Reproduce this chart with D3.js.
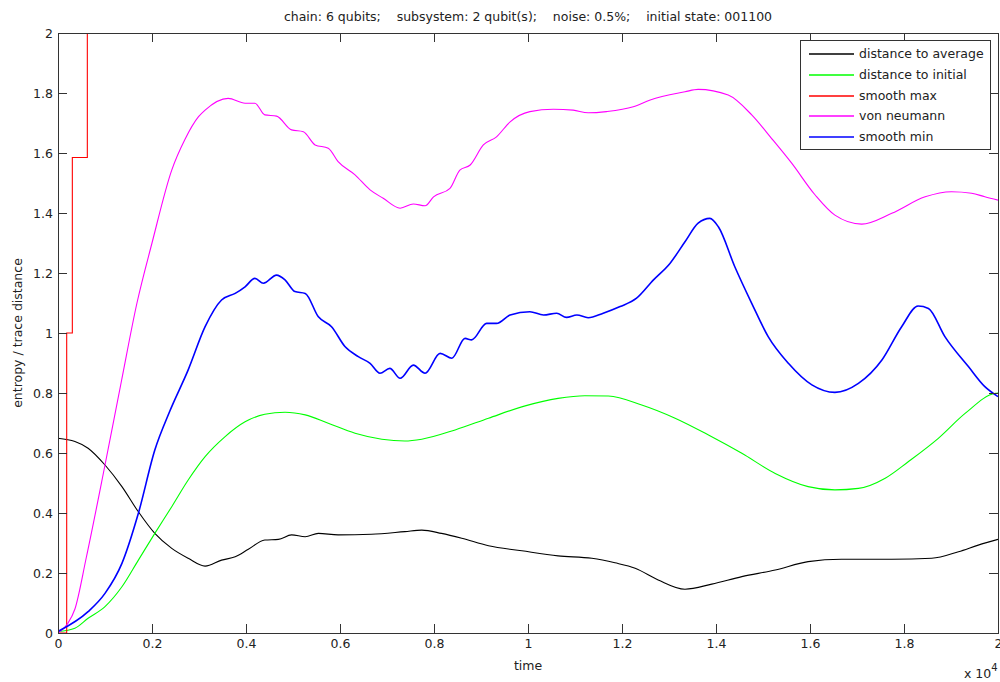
<!DOCTYPE html>
<html lang="en">
    <head>
        <meta charset="utf-8">
        <title>entropy / trace distance vs time</title>
        <script type="text/javascript" src="https://cdn.jsdelivr.net/npm/d3@7"></script>
        <style type="text/css">
            body { margin: 0; background: #fff; }
            text {
                font-family: "DejaVu Sans", sans-serif;
                font-size: 12.5px;
                fill: #222;
            }
            .axis path, .axis line {
                fill: none;
                stroke: #333;
                shape-rendering: crispEdges;
            }
            .series { fill: none; }
        </style>
    </head>
    <body>
        <script type="text/javascript">

            // Size and plot box
            var w = 1000;
            var h = 682;
            var boxLeft = 58, boxRight = 998, boxTop = 33, boxBottom = 633;

            var titleText = "chain: 6 qubits;    subsystem: 2 qubit(s);    noise: 0.5%;    initial state: 001100";
            var xTicks = [0, 0.2, 0.4, 0.6, 0.8, 1, 1.2, 1.4, 1.6, 1.8, 2];
            var yTicks = [0, 0.2, 0.4, 0.6, 0.8, 1, 1.2, 1.4, 1.6, 1.8, 2];

            // time in units of 10^4
            var distAverage = [[0,0.649],[0.036,0.638],[0.064,0.616],[0.1,0.56],[0.136,0.488],[0.171,0.404],
                [0.206,0.332],[0.242,0.282],[0.277,0.249],[0.313,0.223],[0.348,0.243],[0.377,0.254],
                [0.405,0.279],[0.44,0.31],[0.469,0.312],[0.497,0.327],[0.526,0.321],[0.554,0.332],
                [0.596,0.327],[0.667,0.329],[0.738,0.338],[0.774,0.343],[0.816,0.332],[0.859,0.316],
                [0.916,0.291],[0.987,0.274],[1.064,0.257],[1.136,0.249],[1.185,0.234],[1.228,0.216],
                [1.277,0.177],[1.334,0.146],[1.391,0.163],[1.455,0.188],[1.526,0.21],[1.596,0.238],
                [1.667,0.246],[1.774,0.246],[1.859,0.249],[1.916,0.271],[1.958,0.293],[2,0.312]];

            var distInitial = [[0,0.005],[0.036,0.016],[0.064,0.049],[0.1,0.088],[0.136,0.154],[0.171,0.243],
                [0.206,0.332],[0.242,0.421],[0.277,0.51],[0.313,0.588],[0.355,0.654],[0.398,0.704],
                [0.44,0.729],[0.483,0.736],[0.526,0.727],[0.575,0.699],[0.632,0.666],[0.689,0.646],
                [0.738,0.64],[0.774,0.646],[0.845,0.677],[0.916,0.716],[0.994,0.757],[1.064,0.782],
                [1.121,0.791],[1.171,0.79],[1.242,0.76],[1.313,0.716],[1.384,0.66],[1.455,0.599],
                [1.526,0.532],[1.596,0.488],[1.653,0.477],[1.703,0.482],[1.76,0.516],[1.809,0.571],
                [1.873,0.649],[1.93,0.732],[1.994,0.799],[2,0.8]];

            var smoothMax = [[0,0],[0.0185,0],[0.0185,1],[0.0305,1],[0.0305,1.585],[0.0624,1.585],
                [0.0624,2],[2,2]];

            var vonNeumann = [[0,0],[0.02,0.03],[0.036,0.08],[0.06,0.25],[0.1,0.56],[0.135,0.84],
                [0.168,1.1],[0.2,1.3],[0.242,1.543],[0.27,1.645],[0.299,1.721],[0.313,1.743],
                [0.362,1.782],[0.398,1.766],[0.419,1.766],
                [0.44,1.727],[0.465,1.723],[0.497,1.677],[0.522,1.671],[0.547,1.627],[0.575,1.616],
                [0.596,1.571],[0.632,1.527],[0.664,1.477],[0.692,1.449],[0.728,1.416],[0.756,1.43],
                [0.781,1.424],[0.799,1.454],[0.834,1.482],[0.855,1.543],[0.877,1.56],[0.905,1.627],
                [0.933,1.654],[0.962,1.704],[1.004,1.738],[1.054,1.746],[1.096,1.743],[1.128,1.734],
                [1.167,1.738],[1.224,1.754],[1.26,1.777],[1.334,1.804],[1.362,1.812],[1.426,1.793],
                [1.476,1.727],[1.518,1.649],[1.561,1.566],[1.611,1.46],[1.653,1.393],[1.71,1.363],
                [1.774,1.399],[1.845,1.454],[1.901,1.471],[1.944,1.466],[1.972,1.454],[2,1.443]];

            var smoothMin = [[0,0.005],[0.064,0.071],[0.1,0.132],[0.136,0.232],[0.171,0.399],[0.206,0.61],
                [0.238,0.74],[0.277,0.877],[0.313,1.021],[0.348,1.11],[0.377,1.132],[0.398,1.154],
                [0.419,1.182],[0.437,1.166],[0.465,1.193],[0.483,1.177],[0.504,1.138],[0.526,1.132],
                [0.554,1.054],[0.582,1.021],[0.611,0.954],[0.639,0.921],[0.664,0.899],[0.685,0.866],
                [0.706,0.882],[0.728,0.849],[0.756,0.893],[0.781,0.866],[0.813,0.932],[0.838,0.916],
                [0.866,0.982],[0.88,0.977],[0.912,1.032],[0.933,1.032],[0.962,1.06],[1.004,1.071],
                [1.033,1.06],[1.061,1.066],[1.082,1.052],[1.104,1.06],[1.128,1.051],[1.16,1.066],
                [1.196,1.088],[1.231,1.116],[1.267,1.177],[1.302,1.232],[1.334,1.304],[1.362,1.366],
                [1.387,1.382],[1.405,1.354],[1.44,1.221],[1.476,1.099],[1.511,0.988],[1.554,0.899],
                [1.604,0.827],[1.653,0.802],[1.703,0.832],[1.753,0.91],[1.795,1.021],[1.83,1.09],
                [1.852,1.082],[1.887,0.988],[1.937,0.888],[1.972,0.821],[2,0.788]];

            var legendNames = ["distance to average", "distance to initial", "smooth max", "von neumann", "smooth min"];
            var legendColors = ["#000000", "#00ff00", "#ff0000", "#ff00ff", "#0000ff"];
            var seriesData = [distAverage, distInitial, smoothMax, vonNeumann, smoothMin];

            // Scales
            var xScale = d3.scaleLinear().domain([0, 2]).range([boxLeft, boxRight]);
            var yScale = d3.scaleLinear().domain([0, 2]).range([boxBottom, boxTop]);

            var svg = d3.select("body")
                        .append("svg")
                        .attr("width", w)
                        .attr("height", h);

            svg.append("clipPath")
               .attr("id", "plot-area")
               .append("rect")
               .attr("x", boxLeft)
               .attr("y", boxTop)
               .attr("width", boxRight - boxLeft)
               .attr("height", boxBottom - boxTop);

            // Lines: the step curve stays straight, the others are smoothed
            var smoothLine = d3.line()
                         .x(function(d) { return xScale(d[0]); })
                         .y(function(d) { return yScale(d[1]); })
                         .curve(d3.curveMonotoneX);
            var stepLine = d3.line()
                         .x(function(d) { return xScale(d[0]); })
                         .y(function(d) { return yScale(d[1]); });

            svg.append("g")
               .attr("clip-path", "url(#plot-area)")
               .selectAll("path")
               .data(seriesData)
               .enter()
               .append("path")
               .attr("class", "series")
               .attr("stroke", function(d, i) { return legendColors[i]; })
               .attr("stroke-width", function(d, i) { return i == 4 ? 1.6 : 1.1; })
               .attr("d", function(d, i) { return i == 2 ? stepLine(d) : smoothLine(d); });

            // Axes, ticks inward on all four sides
            var tickLen = 9;
            svg.append("g")
               .attr("class", "axis")
               .attr("transform", "translate(0," + boxBottom + ")")
               .call(d3.axisBottom(xScale).tickValues(xTicks).tickSizeInner(-tickLen).tickSizeOuter(0).tickPadding(6).tickFormat(d3.format("~g")));
            svg.append("g")
               .attr("class", "axis")
               .attr("transform", "translate(0," + boxTop + ")")
               .call(d3.axisTop(xScale).tickValues(xTicks).tickSizeInner(-tickLen).tickSizeOuter(0).tickFormat(""));
            svg.append("g")
               .attr("class", "axis")
               .attr("transform", "translate(" + boxLeft + ",0)")
               .call(d3.axisLeft(yScale).tickValues(yTicks).tickSizeInner(-tickLen).tickSizeOuter(0).tickPadding(5).tickFormat(d3.format("~g")));
            svg.append("g")
               .attr("class", "axis")
               .attr("transform", "translate(" + boxRight + ",0)")
               .call(d3.axisRight(yScale).tickValues(yTicks).tickSizeInner(-tickLen).tickSizeOuter(0).tickFormat(""));

            svg.selectAll(".axis text")
               .style("font-size", "12.5px")
               .style("fill", "#222")
               .style("font-family", "'DejaVu Sans', sans-serif");

            // Texts
            svg.append("text")
               .attr("x", 528)
               .attr("y", 21)
               .attr("text-anchor", "middle")
               .style("white-space", "pre")
               .text(titleText);

            svg.append("text")
               .attr("x", (boxLeft + boxRight) / 2)
               .attr("y", 670)
               .attr("text-anchor", "middle")
               .text("time");

            svg.append("text")
               .attr("transform", "translate(22," + ((boxTop + boxBottom) / 2) + ") rotate(-90)")
               .attr("text-anchor", "middle")
               .text("entropy / trace distance");

            var expo = svg.append("text")
               .attr("x", 964)
               .attr("y", 678);
            expo.append("tspan").text("x 10");
            expo.append("tspan").attr("dy", -7).style("font-size", "10px").text("4");

            // Legend
            var legend = svg.append("g").attr("transform", "translate(800,40)");
            legend.append("rect")
                  .attr("width", 190)
                  .attr("height", 109)
                  .attr("fill", "#fff")
                  .attr("stroke", "#333")
                  .attr("shape-rendering", "crispEdges");
            var rows = legend.selectAll("g.row")
                  .data(legendNames)
                  .enter()
                  .append("g")
                  .attr("class", "row")
                  .attr("transform", function(d, i) { return "translate(0," + Math.round(14 + i * 20.8) + ")"; });
            rows.append("line")
                .attr("x1", 9).attr("x2", 54)
                .attr("y1", 0).attr("y2", 0)
                .attr("stroke", function(d, i) { return legendColors[i]; })
                .attr("stroke-width", 1.6);
            rows.append("text")
                .attr("x", 59)
                .attr("dy", "0.35em")
                .text(function(d) { return d; });

        </script>
    </body>
</html>
